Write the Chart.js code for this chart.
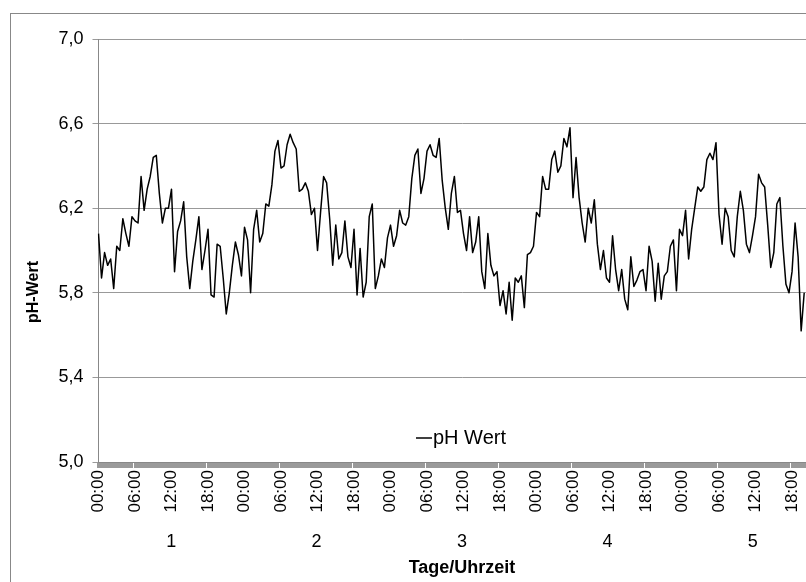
<!DOCTYPE html>
<html>
<head>
<meta charset="utf-8">
<title>pH-Wert</title>
<script src="https://cdn.jsdelivr.net/npm/chart.js@4.4.1/dist/chart.umd.min.js"></script>
<style>
  html, body { margin: 0; padding: 0; background: #fff; overflow: hidden; }
  #frame {
    position: absolute; left: 10px; top: 13px;
    border-left: 1px solid #888; border-top: 1px solid #888;
  }
  canvas { display: block; }
</style>
</head>
<body>
<div id="frame"><canvas id="phChart" width="840" height="590"></canvas></div>
<script>
// pH readings, one value every 30 minutes, grouped per day
const day1 = [6.08, 5.87, 5.99, 5.93, 5.96, 5.82, 6.02, 6.00, 6.15, 6.08,
              6.02, 6.16, 6.14, 6.13, 6.35, 6.19, 6.29, 6.35, 6.44, 6.45,
              6.27, 6.13, 6.20, 6.20, 6.29, 5.90, 6.09, 6.14, 6.23, 5.97,
              5.82, 5.95, 6.05, 6.16, 5.91, 6.00, 6.10, 5.79, 5.78, 6.03,
              6.02, 5.87, 5.70, 5.80, 5.93, 6.04, 5.98, 5.88];
const day2 = [6.11, 6.05, 5.80, 6.10, 6.19, 6.04, 6.08, 6.22, 6.21, 6.31,
              6.47, 6.52, 6.39, 6.40, 6.50, 6.55, 6.51, 6.48, 6.28, 6.29,
              6.32, 6.28, 6.17, 6.20, 6.00, 6.18, 6.35, 6.32, 6.15, 5.93,
              6.12, 5.96, 5.99, 6.14, 5.97, 5.92, 6.10, 5.79, 6.01, 5.78,
              5.85, 6.16, 6.22, 5.82, 5.88, 5.96, 5.92, 6.06];
const day3 = [6.12, 6.02, 6.07, 6.19, 6.13, 6.12, 6.16, 6.34, 6.45, 6.48,
              6.27, 6.34, 6.47, 6.50, 6.45, 6.44, 6.53, 6.33, 6.20, 6.10,
              6.27, 6.35, 6.18, 6.19, 6.08, 6.00, 6.16, 5.99, 6.04, 6.16,
              5.90, 5.82, 6.08, 5.93, 5.88, 5.90, 5.74, 5.81, 5.70, 5.85,
              5.67, 5.87, 5.85, 5.88, 5.73, 5.98, 5.99, 6.02];
const day4 = [6.18, 6.16, 6.35, 6.29, 6.29, 6.43, 6.47, 6.37, 6.40, 6.53,
              6.49, 6.58, 6.25, 6.44, 6.25, 6.13, 6.04, 6.20, 6.13, 6.24,
              6.03, 5.91, 6.00, 5.87, 5.85, 6.07, 5.91, 5.81, 5.91, 5.77,
              5.72, 5.97, 5.83, 5.86, 5.90, 5.91, 5.81, 6.02, 5.95, 5.76,
              5.94, 5.77, 5.88, 5.90, 6.02, 6.05, 5.81, 6.10];
const day5 = [6.07, 6.19, 5.96, 6.10, 6.20, 6.30, 6.28, 6.30,
              6.43, 6.46, 6.43, 6.51, 6.17, 6.03, 6.20, 6.16, 6.00, 5.97,
              6.16, 6.28, 6.19, 6.03, 5.99, 6.07, 6.16, 6.36, 6.32, 6.30,
              6.12, 5.92, 5.99, 6.22, 6.25, 6.02, 5.84, 5.80, 5.90, 6.13,
              5.97, 5.62, 5.80];

const dayNames = ['1', '2', '3', '4', '5'];
const hourLabels = ['00:00', '06:00', '12:00', '18:00'];
const yMin = 5.0, yMax = 7.0, yStep = 0.4;

const phValues = day1.concat(day2, day3, day4, day5);

// half-hour slots for every day, only the 6-hourly ones get a label
const slots = [];
dayNames.forEach(() => {
  for (let h = 0; h < 24; h++) {
    const hh = String(h).padStart(2, '0');
    slots.push(hh + ':00', hh + ':30');
  }
});

const FONT = '"Liberation Sans", Arial, sans-serif';
Chart.defaults.font.family = FONT;
Chart.defaults.color = '#000';

// legend sits inside the plot, centred above the x axis
const innerLegend = {
  id: 'innerLegend',
  afterDatasetsDraw(chart) {
    const { ctx, chartArea } = chart;
    const ds = chart.data.datasets[0];
    const cx = (chartArea.left + chartArea.right) / 2;
    const y = chartArea.bottom - 24;
    ctx.save();
    ctx.strokeStyle = ds.borderColor;
    ctx.lineWidth = 1.5;
    ctx.beginPath();
    ctx.moveTo(cx - 46, y);
    ctx.lineTo(cx - 30, y);
    ctx.stroke();
    ctx.font = '20px ' + FONT;
    ctx.fillStyle = '#000';
    ctx.textAlign = 'left';
    ctx.textBaseline = 'middle';
    ctx.fillText(ds.label, cx - 29, y);
    ctx.restore();
  }
};

// y axis title, placed a bit below the middle of the plot
const yTitle = {
  id: 'yTitle',
  afterDraw(chart) {
    const { ctx } = chart;
    ctx.save();
    ctx.translate(23, 278);
    ctx.rotate(-Math.PI / 2);
    ctx.font = 'bold 16px ' + FONT;
    ctx.fillStyle = '#000';
    ctx.textAlign = 'center';
    ctx.textBaseline = 'middle';
    ctx.fillText('pH-Wert', 0, 0);
    ctx.restore();
  }
};

new Chart(document.getElementById('phChart'), {
  type: 'line',
  data: {
    labels: slots,
    datasets: [{
      label: 'pH Wert',
      data: phValues,
      xAxisID: 'x',
      borderColor: '#000',
      borderWidth: 1.5,
      borderJoinStyle: 'round',
      pointRadius: 0,
      tension: 0,
      fill: false
    }]
  },
  options: {
    responsive: false,
    animation: false,
    layout: { padding: { top: 25, right: 25.5, bottom: 0, left: 0 } },
    plugins: {
      legend: { display: false },
      tooltip: { enabled: false }
    },
    scales: {
      x: {
        type: 'category',
        offset: false,
        grid: { drawOnChartArea: false, tickLength: 6, tickColor: '#9a9a9a', tickWidth: 3 },
        border: { color: '#888' },
        ticks: {
          autoSkip: false,
          minRotation: 90,
          maxRotation: 90,
          padding: 2,
          font: { size: 17 },
          callback(value) {
            const t = this.getLabelForValue(value);
            return hourLabels.includes(t) ? t : '';
          }
        },
        afterFit(scale) { scale.height = 60; }
      },
      x2: {
        type: 'category',
        labels: dayNames,
        offset: true,
        position: 'bottom',
        weight: 1,
        grid: { display: false, drawTicks: false },
        border: { display: false },
        ticks: { padding: 9, font: { size: 18 } },
        title: {
          display: true,
          text: 'Tage/Uhrzeit',
          font: { size: 18, weight: 'bold' },
          padding: { top: 0, bottom: 25 }
        },
        afterFit(scale) { scale.height = 82; }
      },
      y: {
        min: yMin,
        max: yMax,
        grid: { color: '#999', tickLength: 6 },
        border: { color: '#888' },
        ticks: {
          stepSize: yStep,
          padding: 9,
          font: { size: 18 },
          callback: v => v.toFixed(1).replace('.', ',')
        },
        afterFit(scale) { scale.width = 87.5; }
      }
    }
  },
  plugins: [innerLegend, yTitle]
});
</script>
</body>
</html>
